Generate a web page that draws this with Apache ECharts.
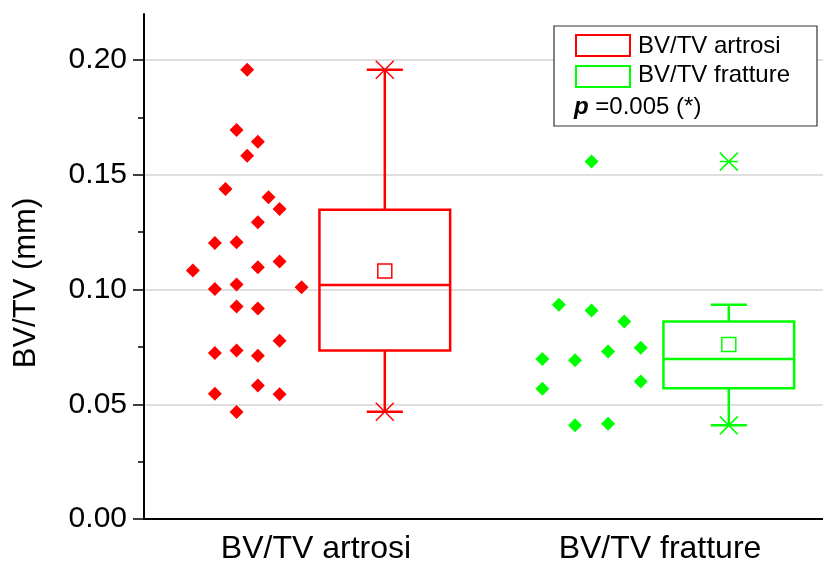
<!DOCTYPE html>
<html>
<head>
<meta charset="utf-8">
<script src="https://cdn.jsdelivr.net/npm/echarts@6/dist/echarts.min.js"></script>
<style>
  html, body { margin: 0; padding: 0; background: #fff; }
  #main { width: 823px; height: 568px; }
</style>
</head>
<body>
<div id="main"></div>
<script>
// categorie e dati
var categories = ['BV/TV artrosi', 'BV/TV fratture'];
var yTicks = [0, 0.05, 0.10, 0.15, 0.20];

// punti artrosi: valore e spostamento orizzontale (unità di categoria)
var artrosiY = [0.1957, 0.1695, 0.1643, 0.1582, 0.1438, 0.1402, 0.1350, 0.1293,
  0.1202, 0.1206, 0.1083, 0.1097, 0.1122, 0.1002, 0.1022, 0.1010, 0.0926, 0.0917,
  0.0723, 0.0734, 0.0711, 0.0776, 0.0546, 0.0582, 0.0544, 0.0466];
var artrosiJitter = [-0.200, -0.231, -0.169, -0.200, -0.263, -0.138, -0.106, -0.169,
  -0.294, -0.231, -0.358, -0.169, -0.106, -0.294, -0.231, -0.042, -0.231, -0.169,
  -0.294, -0.231, -0.169, -0.106, -0.294, -0.169, -0.106, -0.231];

// punti fratture
var fratturY = [0.1557, 0.0933, 0.0908, 0.0860, 0.0697, 0.0692, 0.0730, 0.0746,
  0.0567, 0.0599, 0.0408, 0.0415];
var fratturJitter = [-0.199, -0.294, -0.199, -0.104, -0.342, -0.247, -0.151, -0.056,
  -0.342, -0.056, -0.247, -0.151];

// box: [baffo basso, Q1, mediana, Q3, baffo alto]
var artrosiBox = [0.0467, 0.0734, 0.1019, 0.1347, 0.1957];
var fratturBox = [0.0408, 0.0570, 0.0697, 0.0860, 0.0933];
var means = [0.1080, 0.0760];
var minMax = [[0.0467, 0.1957], [0.0408, 0.1557]];

var colors = ['#ff0000', '#00ff00'];
var font = "'Liberation Sans', Arial, sans-serif";
var boxOffset = 0.2, boxWidth = 0.38, capWidth = 0.105;

var myChart = echarts.init(document.getElementById('main'));

function points(ys, jit, idx) {
    return ys.map(function (v, i) { return [idx + 0.5 + jit[i], v]; });
}

var boxes = [artrosiBox, fratturBox].map(function (b, i) {
    return [i + 0.5 + boxOffset].concat(b).concat([i]);
});

var stars = [];
minMax.forEach(function (mm, i) {
    stars.push({ value: [i + 0.5 + boxOffset, mm[0]], itemStyle: { borderColor: colors[i] } });
    stars.push({ value: [i + 0.5 + boxOffset, mm[1]], itemStyle: { borderColor: colors[i] } });
});

var meanPts = means.map(function (m, i) {
    return { value: [i + 0.5 + boxOffset, m], itemStyle: { borderColor: colors[i] } };
});

function renderBox(params, api) {
    var c = colors[api.value(6)];
    var x = api.value(0);
    var lo = api.coord([x, api.value(1)]);
    var q1 = api.coord([x, api.value(2)]);
    var md = api.coord([x, api.value(3)]);
    var q3 = api.coord([x, api.value(4)]);
    var hi = api.coord([x, api.value(5)]);
    var w = api.size([boxWidth, 0])[0];
    var cw = api.size([capWidth, 0])[0];
    var st = { stroke: c, lineWidth: 2.5, fill: null };
    return {
        type: 'group',
        children: [
            { type: 'rect', shape: { x: q3[0] - w / 2, y: q3[1], width: w, height: q1[1] - q3[1] }, style: st },
            { type: 'line', shape: { x1: md[0] - w / 2, y1: md[1], x2: md[0] + w / 2, y2: md[1] }, style: st },
            { type: 'line', shape: { x1: hi[0], y1: hi[1], x2: q3[0], y2: q3[1] }, style: st },
            { type: 'line', shape: { x1: lo[0], y1: lo[1], x2: q1[0], y2: q1[1] }, style: st },
            { type: 'line', shape: { x1: hi[0] - cw / 2, y1: hi[1], x2: hi[0] + cw / 2, y2: hi[1] }, style: st },
            { type: 'line', shape: { x1: lo[0] - cw / 2, y1: lo[1], x2: lo[0] + cw / 2, y2: lo[1] }, style: st }
        ]
    };
}

var option = {
    backgroundColor: '#fff',
    animation: false,
    textStyle: { fontFamily: font },
    grid: [
        { left: 144, width: 688, top: 14, height: 505, outerBoundsMode: 'none' },
        { left: 144, width: 688, top: 60, height: 459, outerBoundsMode: 'none' }
    ],
    xAxis: [
        { gridIndex: 0, type: 'value', min: 0, max: 2, show: false },
        {
            gridIndex: 1, type: 'category', data: categories,
            axisLine: { lineStyle: { color: '#000', width: 2 } },
            axisTick: { alignWithLabel: true, length: 10, lineStyle: { color: '#000', width: 1.5 } },
            axisLabel: { color: '#000', fontSize: 32, margin: 14, fontFamily: font }
        }
    ],
    yAxis: [
        {
            gridIndex: 0, type: 'value', min: 0, max: 0.22,
            axisLine: { show: true, lineStyle: { color: '#000', width: 2 } },
            axisTick: { show: false }, axisLabel: { show: false }, splitLine: { show: false }
        },
        {
            gridIndex: 1, type: 'value', min: yTicks[0], max: yTicks[yTicks.length - 1], interval: 0.05,
            axisLine: { show: true, lineStyle: { color: '#000', width: 2 } },
            axisTick: { show: true, length: 11, lineStyle: { color: '#000', width: 1.5 } },
            minorTick: { show: true, splitNumber: 2, length: 6, lineStyle: { color: '#000', width: 1.5 } },
            axisLabel: {
                color: '#000', fontSize: 30, margin: 17, fontFamily: font,
                formatter: function (v) { return v.toFixed(2); }
            },
            splitLine: {
                show: true, lineStyle: { color: '#d4d4d4', width: 1.5 }
            }
        }
    ],
    series: [
        {
            type: 'custom', xAxisIndex: 0, yAxisIndex: 0,
            renderItem: renderBox, data: boxes, z: 3
        },
        {
            name: 'BV/TV artrosi', type: 'scatter', xAxisIndex: 0, yAxisIndex: 0,
            symbol: 'diamond', symbolSize: 14, itemStyle: { color: colors[0], opacity: 1 },
            data: points(artrosiY, artrosiJitter, 0)
        },
        {
            name: 'BV/TV fratture', type: 'scatter', xAxisIndex: 0, yAxisIndex: 0,
            symbol: 'diamond', symbolSize: 14, itemStyle: { color: colors[1], opacity: 1 },
            data: points(fratturY, fratturJitter, 1)
        },
        {
            // asterischi min / max
            type: 'scatter', xAxisIndex: 0, yAxisIndex: 0,
            symbol: 'path://M0,5L10,5M0,0L10,10M10,0L0,10', symbolSize: 18,
            itemStyle: { color: 'none', borderWidth: 1.5, opacity: 1 },
            data: stars, z: 4
        },
        {
            // media
            type: 'scatter', xAxisIndex: 0, yAxisIndex: 0,
            symbol: 'rect', symbolSize: 14,
            itemStyle: { color: 'none', borderWidth: 1.5, opacity: 1 },
            data: meanPts, z: 4
        }
    ],
    graphic: [
        {
            type: 'text', x: 26, y: 283, rotation: Math.PI / 2,
            style: {
                text: 'BV/TV (mm)', fill: '#000', fontSize: 31, fontFamily: font,
                align: 'center', verticalAlign: 'middle'
            }
        },
        // legenda
        {
            type: 'rect', shape: { x: 554, y: 26, width: 263, height: 100 },
            style: { fill: '#fff', stroke: '#333', lineWidth: 1.2 }, z: 10
        },
        {
            type: 'rect', shape: { x: 576, y: 35, width: 54, height: 21 },
            style: { fill: null, stroke: colors[0], lineWidth: 2 }, z: 11
        },
        {
            type: 'rect', shape: { x: 576, y: 66, width: 54, height: 21 },
            style: { fill: null, stroke: colors[1], lineWidth: 2 }, z: 11
        },
        {
            type: 'text', x: 638, y: 46, z: 11,
            style: { text: 'BV/TV artrosi', fill: '#000', fontSize: 24, fontFamily: font, verticalAlign: 'middle' }
        },
        {
            type: 'text', x: 638, y: 75, z: 11,
            style: { text: 'BV/TV fratture', fill: '#000', fontSize: 24, fontFamily: font, verticalAlign: 'middle' }
        },
        {
            type: 'text', x: 574, y: 107, z: 11,
            style: {
                text: '{i|p} =0.005 (*)', fill: '#000', fontSize: 24, fontFamily: font, verticalAlign: 'middle',
                rich: { i: { fontStyle: 'italic', fontWeight: 'bold', fontSize: 24, fontFamily: font } }
            }
        }
    ]
};

myChart.setOption(option);
</script>
</body>
</html>
